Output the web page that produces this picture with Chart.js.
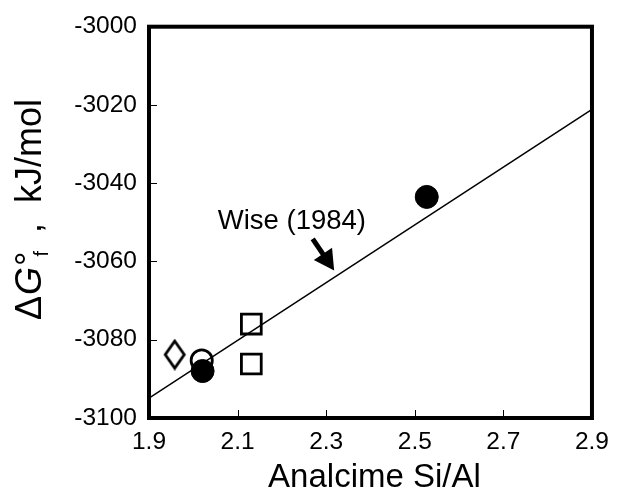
<!DOCTYPE html>
<html>
<head>
<meta charset="utf-8">
<script src="https://cdn.jsdelivr.net/npm/chart.js@4/dist/chart.umd.min.js"></script>
<style>
    html, body { margin: 0; padding: 0; background: #fff; }
    #wrap { width: 619px; height: 497px; position: relative; }
</style>
</head>
<body>
<div id="wrap"><canvas id="gibbsChart"></canvas></div>
<script>
// --- Data ---
const wiseX = [1.9, 2.9];
const wiseY = [-3094.9, -3021.1];
const filledX = [2.021, 2.527];
const filledY = [-3088.0, -3043.5];
const openX = [2.019];
const openY = [-3085.3];
const squareX = [2.131, 2.131];
const squareY = [-3076.0, -3086.2];
const diamondX = [1.958];
const diamondY = [-3083.8];
const xTicks = [1.9, 2.1, 2.3, 2.5, 2.7, 2.9];
const yTicks = [-3000, -3020, -3040, -3060, -3080, -3100];

const wiseLabel = 'Wise (1984)';
const xTitle = 'Analcime Si/Al';

const FONT = '"Liberation Sans", Arial, Helvetica, sans-serif';

function toPoints(xs, ys) {
    return xs.map((x, i) => ({ x: x, y: ys[i] }));
}

// tall diamond marker (Chart.js rectRot is square, this one is taller)
function makeDiamond() {
    const c = document.createElement('canvas');
    c.width = 24;
    c.height = 32;
    const g = c.getContext('2d');
    g.lineWidth = 2.8;
    g.strokeStyle = '#000';
    g.beginPath();
    g.moveTo(12, 2.5);
    g.lineTo(21.5, 16);
    g.lineTo(12, 29.5);
    g.lineTo(2.5, 16);
    g.closePath();
    g.stroke();
    return c;
}

// --- frame, inward ticks, titles and the arrow note ---
const decorations = {
    id: 'decorations',
    afterDraw(chart) {
        const { ctx, chartArea: a, scales } = chart;
        const xs = scales.x, ys = scales.y;
        ctx.save();

        // inward tick marks on left and bottom
        ctx.strokeStyle = '#000';
        ctx.lineWidth = 1;
        ctx.beginPath();
        yTicks.forEach(v => {
            const py = Math.round(ys.getPixelForValue(v)) + 0.5;
            ctx.moveTo(a.left, py);
            ctx.lineTo(a.left + 8, py);
        });
        xTicks.forEach(v => {
            const px = Math.round(xs.getPixelForValue(v)) + 0.5;
            ctx.moveTo(px, a.bottom);
            ctx.lineTo(px, a.bottom - 8);
        });
        ctx.stroke();

        // heavy box
        ctx.lineWidth = 4;
        ctx.strokeRect(a.left, a.top, a.right - a.left, a.bottom - a.top);

        // Wise (1984) label and arrow
        ctx.fillStyle = '#000';
        ctx.font = '27.5px ' + FONT;
        ctx.textAlign = 'center';
        ctx.textBaseline = 'alphabetic';
        ctx.fillText(wiseLabel, xs.getPixelForValue(2.2226), ys.getPixelForValue(-3051.6));

        const sx = xs.getPixelForValue(2.2695), sy = ys.getPixelForValue(-3054.2);
        const tx = xs.getPixelForValue(2.318), ty = ys.getPixelForValue(-3062.3);
        const dx = tx - sx, dy = ty - sy;
        const len = Math.hypot(dx, dy);
        const ux = dx / len, uy = dy / len;
        const headLen = 20, headHalf = 11;
        const bx = tx - ux * headLen, by = ty - uy * headLen;
        ctx.lineWidth = 5;
        ctx.beginPath();
        ctx.moveTo(sx, sy);
        ctx.lineTo(bx + ux * 2, by + uy * 2);
        ctx.stroke();
        ctx.beginPath();
        ctx.moveTo(tx, ty);
        ctx.lineTo(bx - uy * headHalf, by + ux * headHalf);
        ctx.lineTo(bx + uy * headHalf, by - ux * headHalf);
        ctx.closePath();
        ctx.fill();

        // x axis title
        ctx.font = '33px ' + FONT;
        ctx.textAlign = 'center';
        ctx.fillText(xTitle, (a.left + a.right) / 2 + 4, 487);

        // y axis title: ΔG°f , kJ/mol with italic G and subscript f
        ctx.translate(41, 320);
        ctx.rotate(-Math.PI / 2);
        ctx.textAlign = 'left';
        let cx = 0;
        ctx.font = '36px ' + FONT;
        ctx.fillText('\u0394', cx, 0);
        cx += ctx.measureText('\u0394').width + 1;
        ctx.font = 'italic 36px ' + FONT;
        ctx.fillText('G', cx, 0);
        cx += ctx.measureText('G').width + 1;
        ctx.font = '36px ' + FONT;
        ctx.fillText('\u00B0', cx, 0);
        cx += ctx.measureText('\u00B0').width - 5;
        ctx.font = '20px ' + FONT;
        ctx.fillText('f', cx, 7);
        cx += ctx.measureText('f').width;
        ctx.font = '36px ' + FONT;
        ctx.fillText(' ,  kJ/mol', cx + 8, 0);

        ctx.restore();
    }
};

document.addEventListener('DOMContentLoaded', function () {
    const ctx = document.getElementById('gibbsChart').getContext('2d');

    new Chart(ctx, {
        type: 'scatter',
        data: {
            datasets: [
                {
                    label: 'Wise (1984)',
                    type: 'line',
                    data: toPoints(wiseX, wiseY),
                    borderColor: '#000',
                    borderWidth: 1.5,
                    pointRadius: 0,
                    fill: false,
                    order: 1
                },
                {
                    label: 'filled circles',
                    data: toPoints(filledX, filledY),
                    pointStyle: 'circle',
                    pointRadius: 11.5,
                    backgroundColor: '#000',
                    borderColor: '#000',
                    borderWidth: 1,
                    order: 0
                },
                {
                    label: 'open circle',
                    data: toPoints(openX, openY),
                    pointStyle: 'circle',
                    pointRadius: 10.6,
                    backgroundColor: 'rgba(255,255,255,0)',
                    borderColor: '#000',
                    borderWidth: 2.8,
                    order: 2
                },
                {
                    label: 'squares',
                    data: toPoints(squareX, squareY),
                    pointStyle: 'rect',
                    pointRadius: 14,
                    backgroundColor: 'rgba(255,255,255,0)',
                    borderColor: '#000',
                    borderWidth: 2.8,
                    order: 2
                },
                {
                    label: 'diamond',
                    data: toPoints(diamondX, diamondY),
                    pointStyle: makeDiamond(),
                    pointRadius: 12,
                    order: 2
                }
            ]
        },
        options: {
            responsive: true,
            maintainAspectRatio: false,
            animation: false,
            layout: { padding: { top: 23, right: 22, left: 0, bottom: 0 } },
            scales: {
                x: {
                    type: 'linear',
                    min: 1.9,
                    max: 2.9,
                    afterBuildTicks: s => { s.ticks = xTicks.map(v => ({ value: v })); },
                    afterFit: s => { s.height = 79; },
                    grid: { display: false, drawTicks: false },
                    border: { display: false },
                    ticks: {
                        color: '#000',
                        padding: 10,
                        font: { family: FONT, size: 24.5 },
                        maxRotation: 0,
                        callback: v => Number(v).toFixed(1)
                    }
                },
                y: {
                    type: 'linear',
                    min: -3100,
                    max: -3000,
                    afterBuildTicks: s => { s.ticks = yTicks.map(v => ({ value: v })); },
                    afterFit: s => { s.width = 149; },
                    grid: { display: false, drawTicks: false },
                    border: { display: false },
                    ticks: {
                        color: '#000',
                        padding: 12,
                        font: { family: FONT, size: 24.5 },
                        callback: v => String(v)
                    }
                }
            },
            plugins: {
                legend: { display: false },
                tooltip: { enabled: false }
            }
        },
        plugins: [decorations]
    });
});
</script>
</body>
</html>
